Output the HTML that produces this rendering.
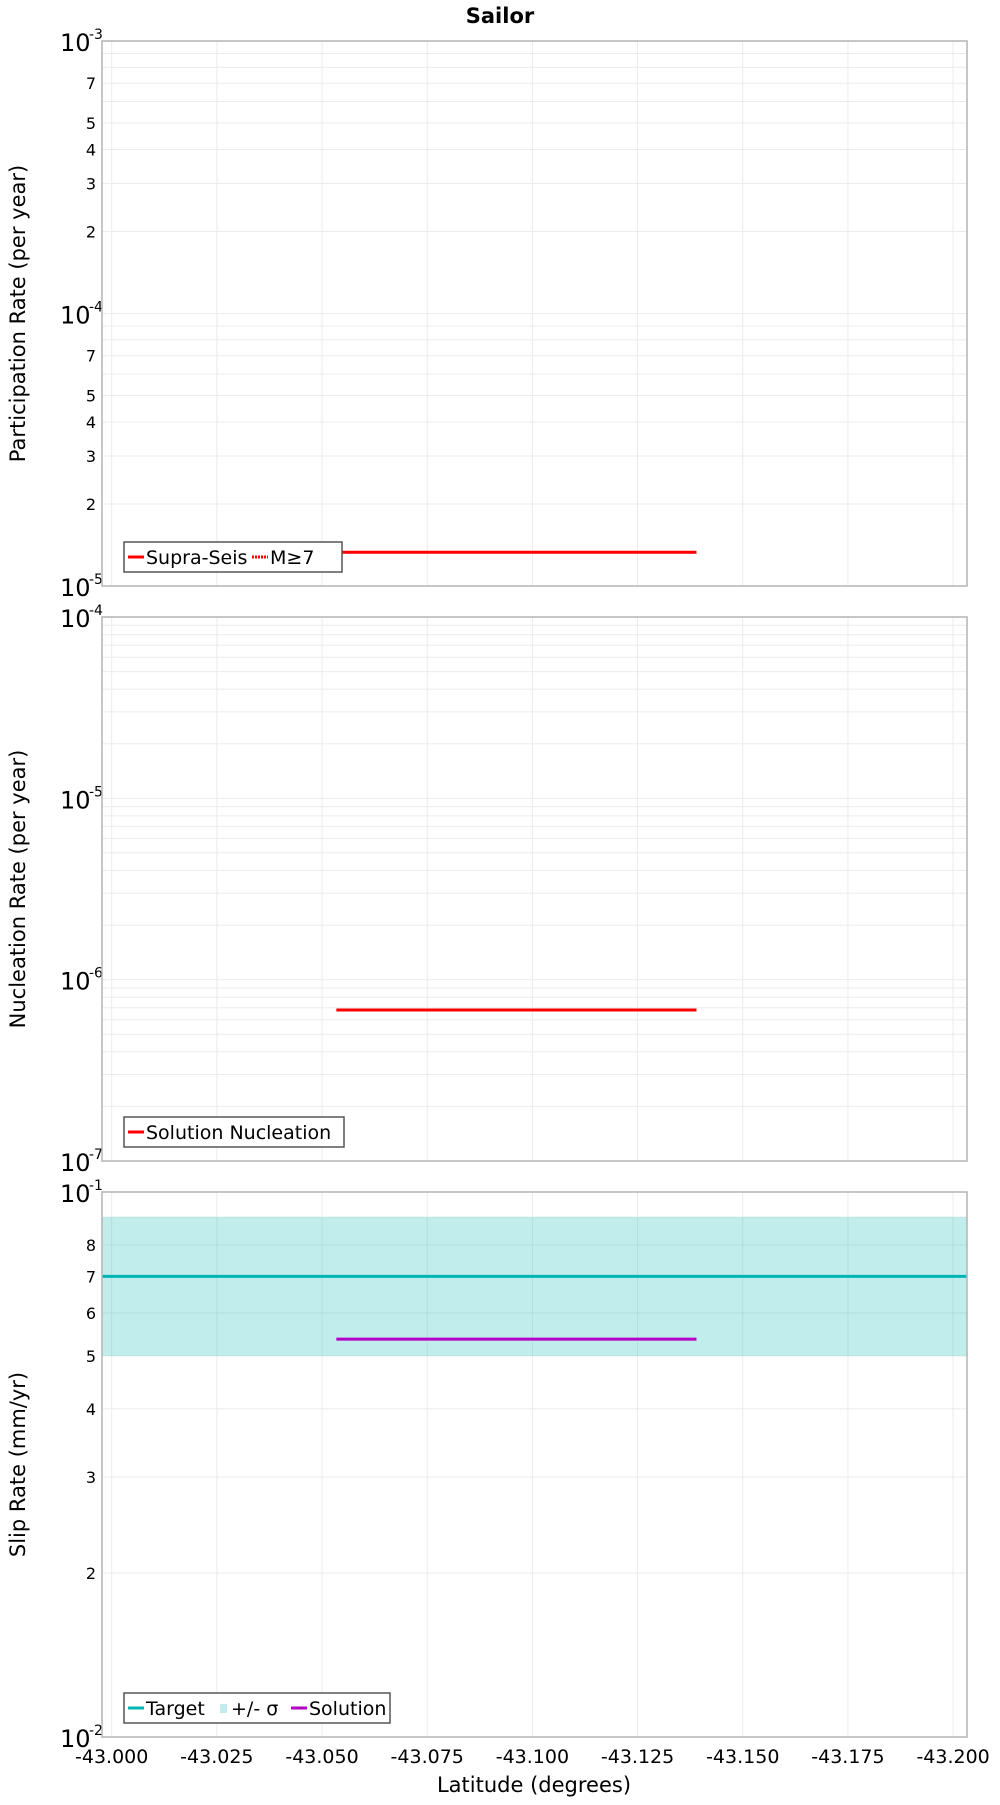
<!DOCTYPE html>
<html><head><meta charset="utf-8"><style>
body{margin:0;background:#fff}
svg text{font-family:"DejaVu Sans","Liberation Sans",sans-serif;fill:#000}
</style></head><body>
<svg id="chart" width="1000" height="1800" viewBox="0 0 1000 1800">
<text x="500" y="23" text-anchor="middle" font-size="21" font-weight="bold">Sailor</text>
</svg>
<script>
const xTicks=[-43.000,-43.025,-43.050,-43.075,-43.100,-43.125,-43.150,-43.175,-43.200];
const partLat=[-43.0534,-43.139];
const partVal=[1.33e-5,1.33e-5];
const nuclLat=[-43.0534,-43.139];
const nuclVal=[6.8e-7,6.8e-7];
const targetLat=[-42.9977,-43.2033];
const targetVal=[0.07,0.07];
const sigmaLow=[0.05,0.05];
const sigmaHigh=[0.09,0.09];
const solLat=[-43.0534,-43.139];
const solVal=[0.0537,0.0537];

const NS='http://www.w3.org/2000/svg';
const svg=document.getElementById('chart');
const L=102,R=967,xMin=-42.9977,xMax=-43.2033;
function xs(v){return L+(v-xMin)/(xMax-xMin)*(R-L);}
function mk(tag,attrs,parent){const e=document.createElementNS(NS,tag);for(const k in attrs)e.setAttribute(k,attrs[k]);(parent||svg).appendChild(e);return e;}

const panels=[
 {top:41,bot:586,lo:-5,hi:-3,title:'Participation Rate (per year)',minorLabels:[2,3,4,5,7],name:'participation'},
 {top:617,bot:1161,lo:-7,hi:-4,title:'Nucleation Rate (per year)',minorLabels:[],name:'nucleation'},
 {top:1192,bot:1737,lo:-2,hi:-1,title:'Slip Rate (mm/yr)',minorLabels:[2,3,4,5,6,7,8],name:'slip-rate'}
];
function ysFor(p){return v=>p.bot-(Math.log10(v)-p.lo)/(p.hi-p.lo)*(p.bot-p.top);}

panels.forEach((p,i)=>{
 const ys=ysFor(p);
 const g=mk('g',{});
 
 
 // grid
 xTicks.forEach(t=>{const l=mk('line',{x1:xs(t),x2:xs(t),y1:p.top,y2:p.bot,stroke:'#ebebeb','stroke-width':1},g);
  });
 for(let d=p.lo;d<p.hi;d++){for(let m=1;m<10;m++){const v=m*Math.pow(10,d);const y=ys(v);
  const l=mk('line',{x1:L,x2:R,y1:y,y2:y,stroke:'#ebebeb','stroke-width':1},g);
  
  if(m>1&&p.minorLabels.includes(m)){const t=mk('text',{x:96,y:y+6,'text-anchor':'end','font-size':16},g);t.textContent=m;
   }}}
 for(let d=p.lo;d<=p.hi;d++){const y=ys(Math.pow(10,d));
  const t=mk('text',{x:60,y:y+10,'font-size':24},g);t.textContent='10';
  
  const s=mk('text',{x:89,y:y-2,'font-size':14},g);s.textContent=String(d);
  }
 const yt=mk('text',{x:0,y:0,'font-size':21,'text-anchor':'middle',transform:`translate(25,${(p.top+p.bot)/2}) rotate(-90)`},g);
 yt.textContent=p.title;
 p.g=g;p.ys=ys;
});

function line(p,lats,vals,color,w,name){const ys=p.ys;
 const pts=lats.map((la,i)=>xs(la)+','+ys(vals[i])).join(' ');
 const e=mk('polyline',{points:pts,fill:'none',stroke:color,'stroke-width':w},p.g);
 }

// panel 1
line(panels[0],partLat,partVal,'#ff0000',3,'supra-seis-line');
// panel 2
line(panels[1],nuclLat,nuclVal,'#ff0000',3,'solution-nucleation-line');
// panel 3
{const p=panels[2],ys=p.ys;
 const pts=targetLat.map((la,i)=>xs(la)+','+ys(sigmaHigh[i])).concat(targetLat.slice().reverse().map((la,j)=>{const i=targetLat.length-1-j;return xs(la)+','+ys(sigmaLow[i]);})).join(' ');
 const band=mk('polygon',{points:pts,fill:'#00b4b4','fill-opacity':0.24},p.g);
 
 line(p,targetLat,targetVal,'#00b4b4',3,'target-line');
 line(p,solLat,solVal,'#b400c8',3,'solution-line');}

// frames
panels.forEach(p=>{const r=mk('rect',{x:L,y:p.top,width:R-L,height:p.bot-p.top,fill:'none',stroke:'#b4b4b4','stroke-width':1.5},p.g);
 });

// legends
function legend(p,items,w){const y0=p.bot-44;
 const g=mk('g',{},p.g);
 const r=mk('rect',{x:124,y:y0,width:w,height:30,fill:'#fff',stroke:'#555','stroke-width':1.5},g);
 
 let x=128;items.forEach(it=>{
  if(it.type==='band'){const s=mk('rect',{x:x+2,y:y0+11,width:7,height:9,fill:'#00b4b4','fill-opacity':0.24},g);x+=13;}
  else{const s=mk('line',{x1:x,x2:x+16,y1:y0+15,y2:y0+15,stroke:it.color,'stroke-width':3,'stroke-dasharray':it.dash||'none'},g);x+=18;}
  const t=mk('text',{x:x,y:y0+22,'font-size':19},g);t.textContent=it.label;
  
  x+=it.w;});}
legend(panels[0],[{color:'#ff0000',label:'Supra-Seis',w:106},{color:'#ff0000',dash:'2,1',label:'M≥7',w:40}],218);
legend(panels[1],[{color:'#ff0000',label:'Solution Nucleation',w:190}],220);
legend(panels[2],[{color:'#00b4b4',label:'Target',w:72},{type:'band',label:'+/- σ',w:60},{color:'#b400c8',label:'Solution',w:90}],266);

// x ticks
xTicks.forEach(t=>{const e=mk('text',{x:xs(t),y:1763,'text-anchor':'middle','font-size':19});e.textContent=t.toFixed(3);
 });
const xt=mk('text',{x:534,y:1792,'text-anchor':'middle','font-size':21});xt.textContent='Latitude (degrees)';

</script>
</body></html>
